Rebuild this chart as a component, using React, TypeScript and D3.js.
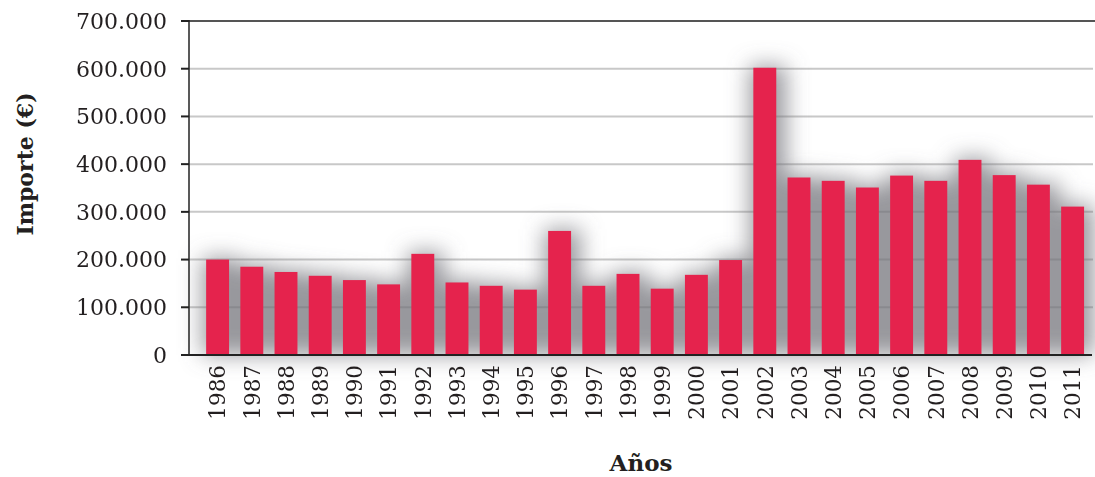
import React from "react";
import * as d3 from "d3";

const years = ["1986","1987","1988","1989","1990","1991","1992","1993","1994","1995","1996","1997","1998","1999","2000","2001","2002","2003","2004","2005","2006","2007","2008","2009","2010","2011"];
const importes = [200000,185000,174000,166000,157000,148000,212000,152000,145000,137000,260000,145000,170000,139000,168000,199000,602000,372000,365000,351000,376000,365000,409000,377000,357000,311000];
const yTicks = [0,100000,200000,300000,400000,500000,600000,700000];

const W = 1095, H = 477;
const locale = d3.formatLocale({ decimal: ",", thousands: ".", grouping: [3], currency: ["", "€"] });
const fmt = locale.format(",");
const FONT = "'DejaVu Serif', 'Liberation Serif', serif";

export default function App() {
  const x = d3.scaleBand<string>().domain(years).range([200.5, 1089.7]).paddingInner(0.33).paddingOuter(0.165);
  const y = d3.scaleLinear().domain([0, 700000]).range([355, 21]);
  const bw = x.bandwidth();
  return (
    <svg width={W} height={H} style={{ position: "absolute", left: 0, top: 0, background: "#fff" }}>
      <defs>
        <filter id="sh" x="-100%" y="-50%" width="300%" height="200%">
          <feGaussianBlur stdDeviation="11" />
        </filter>
      </defs>
      {yTicks.filter(t => t > 0 && t < 700000).map(t => (
        <line key={t} x1={189} x2={1093} y1={y(t)} y2={y(t)} stroke="#c8c8c8" strokeWidth={2} />
      ))}
      <g filter="url(#sh)">
        {importes.map((v, i) => (
          <rect key={i} x={(x(years[i]) as number) - 4} width={bw + 14} y={y(v) - 2} height={355 - y(v) + 2} fill="#6f7177" opacity={0.7} />
        ))}
      </g>
      {importes.map((v, i) => (
        <rect key={i} x={x(years[i])} width={bw} y={y(v)} height={355 - y(v)} fill="#e5234d" />
      ))}
      <line x1={181} x2={1095} y1={y(700000)} y2={y(700000)} stroke="#555" strokeWidth={2} />
      <line x1={189} x2={189} y1={20} y2={356} stroke="#222" strokeWidth={1.5} />
      <line x1={181} x2={1092} y1={355} y2={355} stroke="#222" strokeWidth={2} />
      {yTicks.map(t => (
        <g key={t}>
          <line x1={181} x2={189} y1={y(t)} y2={y(t)} stroke="#222" strokeWidth={2} />
          <text x={167} y={y(t)} dy="0.36em" textAnchor="end" fontFamily={FONT} fontSize={22} fill="#231f20">{fmt(t)}</text>
        </g>
      ))}
      {years.map(yr => (
        <text key={yr} transform={`translate(${(x(yr) as number) + bw / 2},${365}) rotate(-90)`} dy="0.36em" textAnchor="end" fontFamily={FONT} fontSize={21.5} fill="#231f20">{yr}</text>
      ))}
      <text transform={`translate(25,164) rotate(-90)`} dy="0.36em" textAnchor="middle" fontFamily={FONT} fontWeight="bold" fontSize={22} fill="#231f20">Importe (€)</text>
      <text x={641} y={471} textAnchor="middle" fontFamily={FONT} fontWeight="bold" fontSize={23} fill="#231f20">Años</text>
    </svg>
  );
}
